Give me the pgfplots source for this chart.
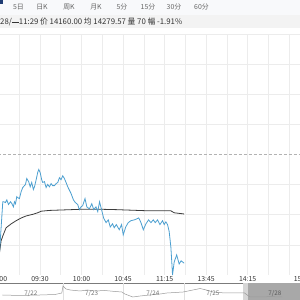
\documentclass[border=0pt]{standalone}
\usepackage{fontspec}
\setmainfont{Noto Sans CJK SC}
\usepackage{pgfplots}
\pgfplotsset{compat=1.18}
\usepackage{pgfplotstable}

\definecolor{priceblue}{HTML}{4C9FD0}
\definecolor{avggray}{HTML}{3C3C3C}
\definecolor{gridgray}{HTML}{ECECEC}
\definecolor{hdrone}{HTML}{F8F9FB}
\definecolor{hdrtwo}{HTML}{F3F3F3}
\definecolor{tabtext}{HTML}{666666}
\definecolor{infotext}{HTML}{333333}
\definecolor{navyblue}{HTML}{1F3C73}
\definecolor{navline}{HTML}{9A9A9A}
\definecolor{navshade}{HTML}{A8A8A8}
\definecolor{navhandle}{HTML}{D6D6D6}

% intraday price, x = trading minutes since 09:00
\pgfplotstableread{
t p
0.7 14186
3.1 14316
3.8 14316
5.0 14314
6.0 14321
7.2 14309
8.7 14316
9.7 14311
10.8 14303
11.5 14316
12.3 14311
13.2 14329
14.1 14326
15.1 14324
16.4 14342
17.5 14352
19.5 14360
20.4 14375
21.8 14367
22.9 14354
24.0 14365
25.2 14347
26.0 14354
27.2 14372
28.3 14390
29.1 14398
30.1 14390
31.2 14372
31.9 14365
33.2 14367
34.4 14352
35.5 14360
36.8 14354
38.0 14362
39.1 14357
40.4 14357
41.6 14362
42.8 14365
44.0 14377
45.2 14372
46.4 14382
47.6 14375
48.8 14365
50.0 14354
52.4 14337
54.1 14321
55.5 14314
57.2 14309
58.4 14296
59.6 14303
60.8 14306
62.5 14324
63.8 14303
65.6 14298
67.4 14311
68.8 14296
70.4 14303
71.7 14291
73.0 14316
74.3 14298
75.9 14275
77.7 14263
79.3 14270
80.7 14252
82.4 14260
83.6 14250
85.1 14258
87.2 14245
88.9 14258
90.1 14232
91.9 14252
93.7 14263
95.7 14268
98.1 14270
100.2 14273
101.3 14275
102.9 14263
104.6 14245
106.5 14260
108.4 14270
110.1 14263
111.8 14270
113.2 14263
114.9 14270
116.6 14258
118.5 14268
119.7 14258
120.9 14265
122.1 14258
123.3 14240
124.5 14201
125.2 14161
125.7 14130
126.9 14163
128.7 14181
130.5 14158
131.9 14166
134.1 14160
}\pricetable

% average price
\pgfplotstableread{
t p
0.7 14186
1.9 14217
3.1 14229
5.5 14250
9.2 14260
12.8 14268
16.5 14275
20.0 14280
24.7 14284
28.3 14288
30.8 14292
36.8 14294
60.8 14297
72.8 14297
84.9 14296
108.4 14293
124.5 14293
126.9 14288
134.1 14285
}\avgtable

% navigator (five days), x = day index
\pgfplotstableread{
d p
0.00 14350
0.29 14325
0.62 14350
0.87 14375
0.98 14450
1.00 14800
1.05 14650
1.12 14600
1.28 14550
1.40 14600
1.53 14550
1.69 14575
1.86 14525
1.97 14500
2.02 14400
2.15 14250
2.27 14300
2.43 14350
2.60 14400
2.71 14450
2.85 14475
2.98 14500
3.06 14550
3.14 14600
3.26 14675
3.36 14600
3.47 14500
3.67 14450
3.83 14450
3.99 14450
4.08 14250
4.30 14250
4.41 14275
4.57 14250
4.61 14250
}\navtable

\begin{document}
\begin{tikzpicture}[x=1pt,y=1pt]
% header rows
\fill[hdrone] (0,285) rectangle (300,300);
\fill[hdrtwo] (0,272) rectangle (300,285);
\fill[navyblue] (0,296) rectangle (2.7,300);
\begin{scope}[every node/.style={font=\fontsize{6.9}{7}\selectfont, text=tabtext, inner sep=0pt}]
\node at (18.5,293) {5日};
\node at (42,293) {日K};
\node at (69,293) {周K};
\node at (96,293) {月K};
\node at (122,293) {5分};
\node at (148,293) {15分};
\node at (174,293) {30分};
\node at (201.5,293) {60分};
\end{scope}
\node[anchor=west, inner sep=0pt, font=\fontsize{7.8}{8}\selectfont, text=infotext] at (0,278) {28/\rule[0.32em]{0.9em}{0.06em}11:29 价 14160.00 均 14279.57 量 70 幅 -1.91\%};

\begin{axis}[
  at={(-1.5pt,25pt)}, anchor=south west,
  scale only axis, width=311.5pt, height=241pt,
  xmin=0, xmax=225, ymin=14130, ymax=14742,
  scaled y ticks=false, scaled x ticks=false,
  axis line style={draw=none},
  grid=major, grid style={gridgray, line width=0.7pt},
  major tick length=0pt,
  xtick={0,15,...,225},
  xticklabels={09:00,,09:30,,10:00,,10:45,,11:15,,13:45,,14:15,,,},
  extra x ticks={219.5}, extra x tick labels={15:00},
  extra x tick style={grid=none},
  ytick={14206.5,14283,14359.5,14512.5,14589,14665.5,14742},
  yticklabels={},
  xticklabel style={font=\fontsize{6.9}{7}\selectfont, text=infotext, inner sep=1pt},
  clip=false,
]
\addplot[color=black!30, dash pattern=on 3pt off 2pt, line width=0.6pt] coordinates {(0,14436) (225,14436)};
\addplot[color=avggray, line width=0.8pt] table[x=t,y=p] {\avgtable};
\addplot[color=priceblue, line width=0.8pt] table[x=t,y=p] {\pricetable};
\end{axis}

% navigator
\draw[navline!80!black, line width=0.7pt] (0,17) -- (300,17);
\begin{axis}[
  at={(2.3pt,0pt)}, anchor=south west,
  scale only axis, width=303.5pt, height=17pt,
  xmin=0, xmax=5, ymin=14100, ymax=14950,
  scaled y ticks=false,
  hide axis, clip=false,
]
\fill[navhandle] (axis cs:3.97,14100) rectangle (axis cs:4.05,14930);
\fill[navshade] (axis cs:4.05,14100) rectangle (axis cs:5,14930);
\draw[black!12] (axis cs:1,14100) -- (axis cs:1,14930);
\draw[black!12] (axis cs:2,14100) -- (axis cs:2,14930);
\draw[black!12] (axis cs:3,14100) -- (axis cs:3,14930);
\addplot[color=navline, line width=0.5pt] table[x=d,y=p] {\navtable};
\node[font=\fontsize{6.3}{7}\selectfont, text=black!55] at (axis cs:0.47,14400) {7/22};
\node[font=\fontsize{6.3}{7}\selectfont, text=black!55] at (axis cs:1.47,14400) {7/23};
\node[font=\fontsize{6.3}{7}\selectfont, text=black!55] at (axis cs:2.48,14400) {7/24};
\node[font=\fontsize{6.3}{7}\selectfont, text=black!55] at (axis cs:3.47,14400) {7/25};
\node[font=\fontsize{6.3}{7}\selectfont, text=black!65] at (axis cs:4.49,14400) {7/28};
\end{axis}
\pgfresetboundingbox
\useasboundingbox (0,0) rectangle (300,300);
\end{tikzpicture}
\end{document}
